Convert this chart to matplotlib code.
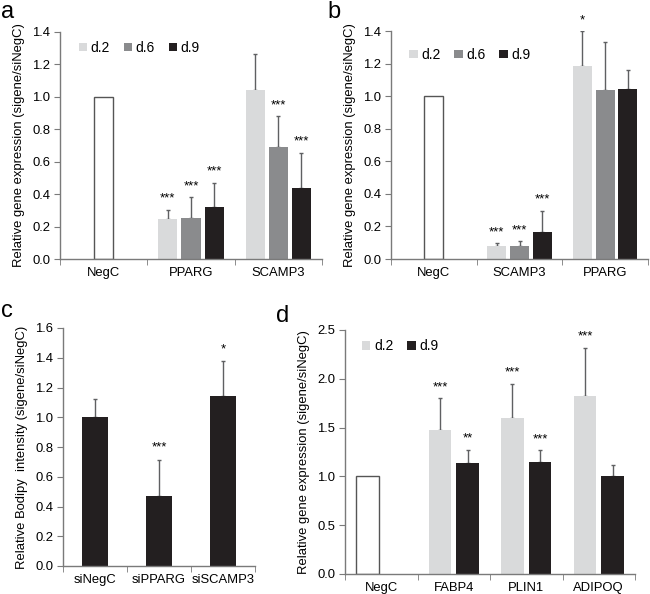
import numpy as np
import matplotlib
matplotlib.use('Agg')
import matplotlib.pyplot as plt
from matplotlib.patches import Patch

plt.rcParams['font.family'] = ['Liberation Sans', 'DejaVu Sans']
plt.rcParams['font.size'] = 9.4

# panel a
a_cats = ['NegC', 'PPARG', 'SCAMP3']
a_negc = 1.0
a_d2 = [0.245, 1.04]
a_d6 = [0.255, 0.69]
a_d9 = [0.32, 0.435]
a_d2_err = [0.06, 0.225]
a_d6_err = [0.125, 0.19]
a_d9_err = [0.15, 0.22]
a_d2_sig = ['***', '']
a_d6_sig = ['***', '***']
a_d9_sig = ['***', '***']

# panel b
b_cats = ['NegC', 'SCAMP3', 'PPARG']
b_negc = 1.0
b_d2 = [0.082, 1.185]
b_d6 = [0.08, 1.035]
b_d9 = [0.167, 1.042]
b_d2_err = [0.016, 0.215]
b_d6_err = [0.03, 0.295]
b_d9_err = [0.13, 0.118]
b_d2_sig = ['***', '*']
b_d6_sig = ['***', '']
b_d9_sig = ['***', '']

# panel c
c_cats = ['siNegC', 'siPPARG', 'siSCAMP3']
c_vals = [1.0, 0.47, 1.14]
c_err = [0.12, 0.245, 0.235]
c_sig = ['', '***', '*']

# panel d
d_cats = ['NegC', 'FABP4', 'PLIN1', 'ADIPOQ']
d_negc = 1.0
d_d2 = [1.48, 1.60, 1.82]
d_d9 = [1.14, 1.145, 1.0]
d_d2_err = [0.325, 0.35, 0.50]
d_d9_err = [0.135, 0.125, 0.115]
d_d2_sig = ['***', '***', '***']
d_d9_sig = ['**', '***', '']

C2 = '#d9dadb'
C6 = '#8a8b8d'
C9 = '#231f20'
AX = '#7a7a7a'
ERR = '#5f6062'

fig = plt.figure(figsize=(6.5, 5.94), dpi=100)


def style_axes(ax, ncat, cats, ymax, ystep, ylabel):
    ax.set_xlim(0, ncat)
    ax.set_ylim(0, ymax)
    ax.set_yticks(np.arange(0, ymax + 1e-9, ystep))
    ax.set_yticklabels([f'{v:.1f}' for v in np.arange(0, ymax + 1e-9, ystep)])
    ax.set_xticks(np.arange(ncat) + 0.5)
    ax.set_xticklabels(cats)
    ax.set_xticks(np.arange(ncat + 1), minor=True)
    ax.tick_params(axis='x', which='major', length=0, pad=6)
    ax.tick_params(axis='x', which='minor', length=4, direction='out', color=AX)
    ax.tick_params(axis='y', length=4, direction='out', color=AX, pad=3)
    for s in ['top', 'right']:
        ax.spines[s].set_visible(False)
    for s in ['left', 'bottom']:
        ax.spines[s].set_color(AX)
        ax.spines[s].set_linewidth(1)
    ax.set_ylabel(ylabel, labelpad=5)
    ax.patch.set_alpha(0)


def bars(ax, x, vals, errs, color, width, sigs, off):
    ax.bar(x, vals, width=width, color=color, zorder=2)
    ax.errorbar(x, vals, yerr=[np.zeros(len(vals)), errs], fmt='none',
                ecolor=ERR, elinewidth=1, capsize=1.5, capthick=1, zorder=1)
    for xi, v, e, s in zip(x, vals, errs, sigs):
        if s:
            ax.text(xi, v + e + off, s, ha='center', va='bottom', fontsize=9.5)


def negc_bar(ax, x, val, width):
    ax.bar([x], [val], width=width, color='white', edgecolor='#555555',
           linewidth=1, zorder=2)


def legend(ax, labels, colors, x, y):
    handles = [Patch(facecolor=c, edgecolor='none') for c in colors]
    ax.legend(handles, labels, loc='upper left', bbox_to_anchor=(x, y),
              ncol=len(labels), frameon=False, handlelength=0.6,
              handleheight=0.6, handletextpad=0.25, columnspacing=1.0,
              fontsize=10, borderaxespad=0)


# a
ax = fig.add_axes([60 / 650, 1 - 259 / 594, 262 / 650, 227 / 594])
style_axes(ax, 3, a_cats, 1.4, 0.2, 'Relative gene expression (sigene/siNegC)')
w = 0.22
off3 = 0.265
xs = np.arange(1, 3) + 0.5
negc_bar(ax, 0.5, a_negc, w)
bars(ax, xs - off3, a_d2, a_d2_err, C2, w, a_d2_sig, 0.03)
bars(ax, xs, a_d6, a_d6_err, C6, w, a_d6_sig, 0.03)
bars(ax, xs + off3, a_d9, a_d9_err, C9, w, a_d9_sig, 0.03)
legend(ax, ['d.2', 'd.6', 'd.9'], [C2, C6, C9], 0.05, 0.985)
fig.text(8 / 650, 1 - 12 / 594, 'a', fontsize=17, ha='center', va='center')

# b
ax = fig.add_axes([391 / 650, 1 - 259 / 594, 257 / 650, 228 / 594])
style_axes(ax, 3, b_cats, 1.4, 0.2, 'Relative gene expression (sigene/siNegC)')
negc_bar(ax, 0.5, b_negc, w)
bars(ax, xs - off3, b_d2, b_d2_err, C2, w, b_d2_sig, 0.03)
bars(ax, xs, b_d6, b_d6_err, C6, w, b_d6_sig, 0.03)
bars(ax, xs + off3, b_d9, b_d9_err, C9, w, b_d9_sig, 0.03)
legend(ax, ['d.2', 'd.6', 'd.9'], [C2, C6, C9], 0.05, 0.95)
fig.text(334 / 650, 1 - 12 / 594, 'b', fontsize=17, ha='center', va='center')

# c
ax = fig.add_axes([63 / 650, 1 - 566 / 594, 192 / 650, 238 / 594])
style_axes(ax, 3, c_cats, 1.6, 0.2, 'Relative Bodipy  intensity (sigene/siNegC)')
bars(ax, np.arange(3) + 0.5, c_vals, c_err, C9, 0.4, c_sig, 0.04)
fig.text(7 / 650, 1 - 311 / 594, 'c', fontsize=17, ha='center', va='center')

# d
ax = fig.add_axes([345 / 650, 1 - 574 / 594, 290 / 650, 244 / 594])
style_axes(ax, 4, d_cats, 2.5, 0.5, 'Relative gene expression (sigene/siNegC)')
wd = 0.31
offd = 0.19
xd = np.arange(1, 4) + 0.5
negc_bar(ax, 0.5 - offd, d_negc, wd)
bars(ax, xd - offd, d_d2, d_d2_err, C2, wd, d_d2_sig, 0.05)
bars(ax, xd + offd, d_d9, d_d9_err, C9, wd, d_d9_sig, 0.05)
legend(ax, ['d.2', 'd.9'], [C2, C9], 0.04, 0.985)
fig.text(283 / 650, 1 - 316 / 594, 'd', fontsize=17, ha='center', va='center')

fig.savefig('out.png', dpi=100)
